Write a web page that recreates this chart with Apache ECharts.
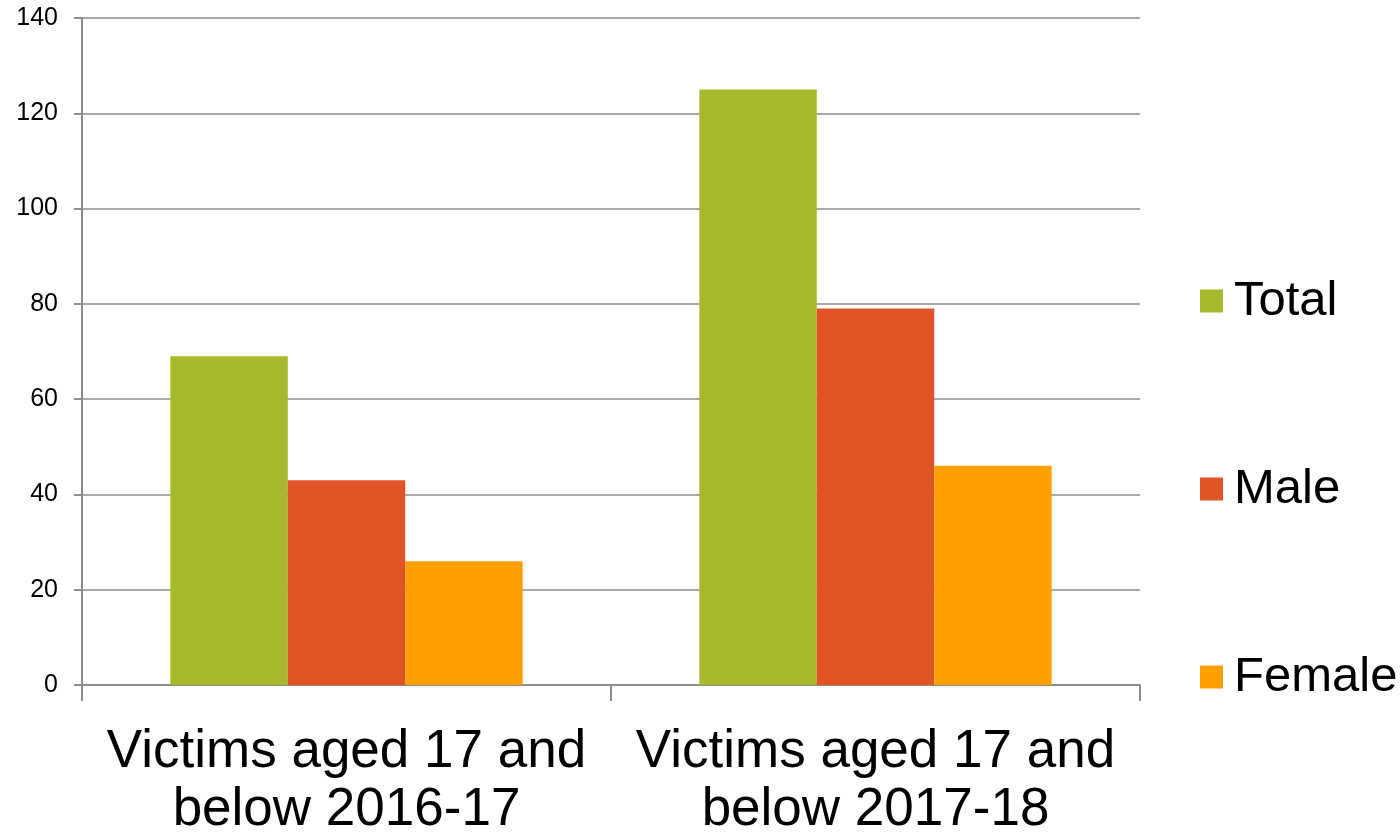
<!DOCTYPE html>
<html><head><meta charset="utf-8">
<script src="https://cdn.jsdelivr.net/npm/echarts@6/dist/echarts.min.js"></script>
<style>html,body{margin:0;padding:0;background:#fff}#c{width:1400px;height:833px}</style>
</head><body><div id="c"></div>
<script>
const categories = ['Victims aged 17 and\nbelow 2016-17', 'Victims aged 17 and\nbelow 2017-18'];
const seriesNames = ['Total', 'Male', 'Female'];
const totalValues = [69, 125];
const maleValues = [43, 79];
const femaleValues = [26, 46];
const colors = ['#A7B82A', '#E05427', '#FF9F00'];
const values = [totalValues, maleValues, femaleValues];
const font = '"Liberation Sans", Arial, sans-serif';
const chart = echarts.init(document.getElementById('c'), null, {renderer: 'canvas'});
chart.setOption({
  animation: false,
  backgroundColor: '#fff',
  grid: {left: 82, right: 260, top: 18, bottom: 148, containLabel: false, outerBoundsMode: 'none'},
  legend: {
    orient: 'vertical', left: 1195, top: 271,
    itemWidth: 23, itemHeight: 23, itemGap: 138,
    icon: 'rect',
    textStyle: {fontSize: 49, fontFamily: font, color: '#000', lineHeight: 50, padding: [0,0,0,6]},
    data: seriesNames
  },
  xAxis: {
    type: 'category', data: categories,
    axisLine: {lineStyle: {color: '#8c8c8c', width: 2}},
    axisTick: {show: true, length: 16, alignWithLabel: false, lineStyle: {color: '#8c8c8c', width: 2}},
    axisLabel: {fontSize: 53, fontFamily: font, color: '#000', lineHeight: 58, margin: 38, interval: 0}
  },
  yAxis: {
    type: 'value', min: 0, max: 140, interval: 20,
    axisLine: {show: true, lineStyle: {color: '#8c8c8c', width: 2}},
    axisTick: {show: true, length: 8, lineStyle: {color: '#8c8c8c', width: 2}},
    splitLine: {lineStyle: {color: '#8c8c8c', width: 1.5}},
    axisLabel: {fontSize: 25, fontFamily: font, color: '#000', margin: 24}
  },
  series: seriesNames.map((n, i) => ({
    name: n, type: 'bar', data: values[i],
    itemStyle: {color: colors[i]},
    barGap: '0%', barCategoryGap: '33.4%'
  }))
});
</script></body></html>
